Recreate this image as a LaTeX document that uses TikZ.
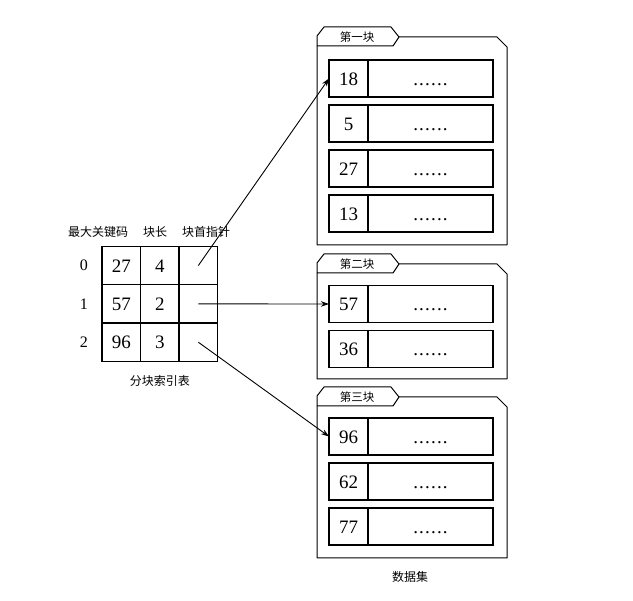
\documentclass[tikz,border=0pt]{standalone}
\usepackage{fontspec}
\setmainfont{Liberation Serif}
\newfontfamily\cjk{Noto Sans CJK SC}
\usetikzlibrary{arrows.meta,positioning}
\newcommand\sixdots{.\kern1.2pt.\kern1.2pt.\kern1.2pt.\kern1.2pt.\kern1.2pt.}
\tikzset{
  idxcell/.style={draw, line width=1.2pt, outer sep=0pt, inner sep=0pt,
                  minimum width=38.5pt, minimum height=38.3pt,
                  text height=13.5pt, text depth=0pt,
                  font=\fontsize{19}{22}\selectfont},
  rowlbl/.style={inner sep=0pt, font=\fontsize{16}{18}\selectfont},
  hdr/.style={inner sep=1pt, font=\cjk\fontsize{12}{14}\selectfont},
  rkey/.style={idxcell, minimum width=39pt, minimum height=37pt},
  rval/.style={rkey, minimum width=125pt},
  frame/.style={draw, line width=1pt, line join=round},
  tablbl/.style={inner sep=0pt, font=\cjk\fontsize{11.5}{13}\selectfont},
  ptr/.style={-{Stealth[length=8pt,width=5.5pt]}, line width=0.9pt},
}
\begin{document}
\begin{tikzpicture}[x=1pt, y=-1pt]
  \useasboundingbox (0,0) rectangle (633,601);

  % --- index table ---
  \node[idxcell] (k0) at (121.3,265.6) {27};
  \node[idxcell, right=0pt of k0] (n0) {4};
  \node[idxcell, right=0pt of n0] (p0) {};
  \node[idxcell, below=0pt of k0] (k1) {57};
  \node[idxcell, right=0pt of k1] (n1) {2};
  \node[idxcell, right=0pt of n1] (p1) {};
  \node[idxcell, below=0pt of k1] (k2) {96};
  \node[idxcell, right=0pt of k2] (n2) {3};
  \node[idxcell, right=0pt of n2] (p2) {};

  \node[rowlbl, left=14pt of k0] (r0) {0};
  \node[rowlbl, left=14pt of k1] (r1) {1};
  \node[rowlbl, left=14pt of k2] (r2) {2};

  \node[hdr] (hkey) at ( 98,232) {最大关键码};
  \node[hdr] (hlen) at (155,232) {块长};
  \node[hdr] (hptr) at (206,232) {块首指针};
  \node[hdr, below=13pt of n2] (idxcap) {分块索引表};

  % --- data blocks ---
  \foreach \nm/\T/\B/\lab in {b1/27/245/第一块, b2/254/379/第二块, b3/387/558/第三块}{
    \draw[frame] (317,\T+19) -- (317,\B) -- (507,\B) -- (507,\T+20)
      -- (497,\T+10) -- (399,\T+10);
    \draw[frame] (317,\T+19) -- (317,\T+9) -- (324,\T) -- (391,\T)
      -- (399,\T+10) -- (393,\T+19) -- cycle;
    \node[tablbl] (\nm) at (357,\T+10) {\lab};
  }

  \node[rkey] (b1k1) at (348.5,78.5) {18};
  \node[rval, right=0pt of b1k1] (b1v1) {\sixdots};
  \node[rkey, below=8pt of b1k1] (b1k2) {5};
  \node[rval, right=0pt of b1k2] (b1v2) {\sixdots};
  \node[rkey, below=8pt of b1k2] (b1k3) {27};
  \node[rval, right=0pt of b1k3] (b1v3) {\sixdots};
  \node[rkey, below=8pt of b1k3] (b1k4) {13};
  \node[rval, right=0pt of b1k4] (b1v4) {\sixdots};

  \node[rkey] (b2k1) at (348.5,304) {57};
  \node[rval, right=0pt of b2k1] (b2v1) {\sixdots};
  \node[rkey, below=8pt of b2k1] (b2k2) {36};
  \node[rval, right=0pt of b2k2] (b2v2) {\sixdots};

  \node[rkey] (b3k1) at (348.5,436.5) {96};
  \node[rval, right=0pt of b3k1] (b3v1) {\sixdots};
  \node[rkey, below=8pt of b3k1] (b3k2) {62};
  \node[rval, right=0pt of b3k2] (b3v2) {\sixdots};
  \node[rkey, below=8pt of b3k2] (b3k3) {77};
  \node[rval, right=0pt of b3k3] (b3v3) {\sixdots};

  \node[hdr] (datacap) at (410,577) {数据集};

  % --- block pointers ---
  \draw[ptr] (p0.center) -- (b1k1.west);
  \draw[ptr] (p1.center) -- (b2k1.west);
  \draw[ptr] (p2.center) -- (b3k1.west);
\end{tikzpicture}
\end{document}
